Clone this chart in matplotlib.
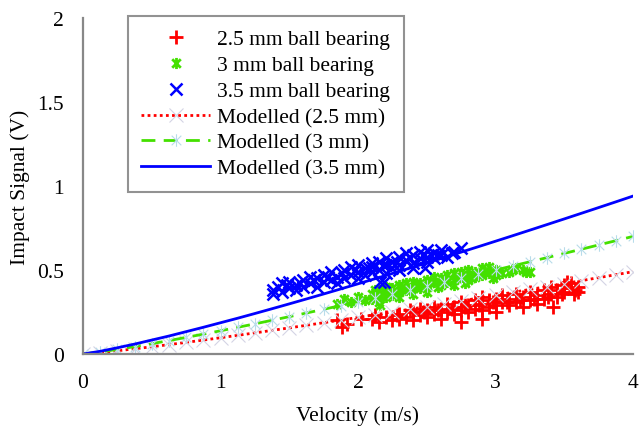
import matplotlib
matplotlib.use('Agg')
import matplotlib.pyplot as plt
from matplotlib.path import Path

plt.rcParams['font.family'] = ['Liberation Serif', 'DejaVu Serif']
plt.rcParams['font.size'] = 15.5

red_v = [1.85, 1.88, 1.92, 2.10, 2.15, 2.20, 2.25, 2.30, 2.30, 2.35, 2.40, 2.40, 2.45, 2.45,
         2.50, 2.50, 2.55, 2.55, 2.60, 2.60, 2.65, 2.65, 2.70, 2.70, 2.75, 2.75, 2.75, 2.80,
         2.80, 2.85, 2.85, 2.90, 2.90, 2.90, 2.95, 2.95, 3.00, 3.00, 3.00, 3.05, 3.05, 3.10,
         3.10, 3.15, 3.15, 3.20, 3.20, 3.25, 3.25, 3.30, 3.30, 3.35, 3.35, 3.40, 3.40, 3.45,
         3.45, 3.50, 3.50, 3.55, 3.55, 3.60, 3.60, 2.90, 3.42,
         2.02, 2.12, 2.28, 2.38, 2.48, 2.58, 2.68, 2.78, 2.88, 2.98, 3.08, 3.18, 3.28, 3.38,
         3.48, 3.58, 3.52, 3.57]
red_s = [0.20, 0.16, 0.18, 0.21, 0.19, 0.22, 0.20, 0.24, 0.21, 0.22, 0.25, 0.20, 0.23, 0.27,
         0.26, 0.22, 0.24, 0.28, 0.27, 0.21, 0.25, 0.30, 0.28, 0.24, 0.31, 0.26, 0.19, 0.29,
         0.25, 0.32, 0.27, 0.30, 0.26, 0.34, 0.28, 0.32, 0.33, 0.29, 0.25, 0.31, 0.35, 0.29,
         0.33, 0.36, 0.31, 0.34, 0.28, 0.32, 0.37, 0.35, 0.30, 0.38, 0.33, 0.36, 0.40, 0.38,
         0.34, 0.41, 0.37, 0.39, 0.42, 0.40, 0.37, 0.21, 0.28,
         0.21, 0.23, 0.23, 0.26, 0.25, 0.26, 0.27, 0.28, 0.29, 0.31, 0.31, 0.32, 0.33, 0.34,
         0.36, 0.38, 0.43, 0.36]

green_v = [1.85, 1.90, 1.95, 2.00, 2.05, 2.10, 2.10, 2.15, 2.15, 2.15, 2.20, 2.20, 2.20, 2.25,
           2.25, 2.30, 2.30, 2.30, 2.35, 2.35, 2.40, 2.40, 2.40, 2.45, 2.45, 2.50, 2.50, 2.50,
           2.55, 2.55, 2.60, 2.60, 2.65, 2.65, 2.70, 2.70, 2.70, 2.75, 2.75, 2.80, 2.80, 2.80,
           2.85, 2.85, 2.90, 2.90, 2.95, 2.95, 3.00, 3.00, 3.10, 3.15, 3.20, 3.25, 2.16,
           2.12, 2.22, 2.32, 2.42, 2.52, 2.62, 2.72, 2.82, 2.92, 2.18, 2.38, 2.58, 2.78, 2.98,
           3.05, 3.12, 3.22]
green_s = [0.30, 0.33, 0.31, 0.34, 0.32, 0.36, 0.33, 0.35, 0.38, 0.31, 0.37, 0.34, 0.40, 0.39,
           0.35, 0.41, 0.37, 0.34, 0.38, 0.42, 0.40, 0.36, 0.43, 0.42, 0.39, 0.44, 0.40, 0.37,
           0.43, 0.46, 0.41, 0.45, 0.47, 0.43, 0.44, 0.48, 0.41, 0.46, 0.49, 0.47, 0.44, 0.50,
           0.49, 0.46, 0.51, 0.47, 0.48, 0.52, 0.50, 0.47, 0.49, 0.51, 0.50, 0.49, 0.29,
           0.38, 0.39, 0.39, 0.41, 0.42, 0.43, 0.45, 0.45, 0.49, 0.36, 0.38, 0.40, 0.42, 0.45,
           0.48, 0.50, 0.49]

blue_v = [1.38, 1.38, 1.42, 1.45, 1.45, 1.50, 1.50, 1.55, 1.55, 1.60, 1.60, 1.65, 1.65, 1.70,
          1.70, 1.75, 1.75, 1.80, 1.80, 1.85, 1.85, 1.90, 1.90, 1.95, 1.95, 2.00, 2.00, 2.00,
          2.05, 2.05, 2.10, 2.10, 2.10, 2.15, 2.15, 2.20, 2.20, 2.20, 2.25, 2.25, 2.30, 2.30,
          2.30, 2.35, 2.35, 2.40, 2.40, 2.40, 2.45, 2.45, 2.50, 2.50, 2.50, 2.55, 2.55, 2.60,
          2.60, 2.65, 2.70, 2.75, 2.16, 2.49, 2.19,
          1.48, 1.58, 1.68, 1.78, 1.88, 1.98, 2.08, 2.18, 2.28, 2.38, 2.48, 2.58, 2.68]
blue_s = [0.38, 0.36, 0.40, 0.37, 0.42, 0.39, 0.43, 0.41, 0.38, 0.44, 0.40, 0.42, 0.46, 0.40,
          0.45, 0.47, 0.43, 0.44, 0.49, 0.46, 0.42, 0.50, 0.45, 0.47, 0.52, 0.49, 0.45, 0.53,
          0.51, 0.47, 0.54, 0.49, 0.52, 0.50, 0.55, 0.53, 0.48, 0.57, 0.55, 0.51, 0.58, 0.53,
          0.50, 0.56, 0.60, 0.54, 0.59, 0.51, 0.61, 0.57, 0.58, 0.62, 0.55, 0.60, 0.57, 0.62,
          0.59, 0.58, 0.61, 0.63, 0.43, 0.51, 0.43,
          0.41, 0.42, 0.44, 0.46, 0.48, 0.50, 0.51, 0.53, 0.55, 0.57, 0.59, 0.59, 0.60]

## Modelled curves
model_v = [0, 0.125, 0.25, 0.375, 0.5, 0.625, 0.75, 0.875, 1, 1.125, 1.25, 1.375, 1.5,
           1.625, 1.75, 1.875, 2, 2.125, 2.25, 2.375, 2.5, 2.625, 2.75, 2.875, 3, 3.125,
           3.25, 3.375, 3.5, 3.625, 3.75, 3.875, 4]
model_25 = [0, 0.0085, 0.0191, 0.0307, 0.0430, 0.0558, 0.0691, 0.0828, 0.0968, 0.1111,
            0.1256, 0.1405, 0.1555, 0.1708, 0.1863, 0.2019, 0.2178, 0.2338, 0.2499, 0.2663,
            0.2827, 0.2993, 0.3161, 0.3329, 0.3499, 0.3671, 0.3843, 0.4016, 0.4191, 0.4367,
            0.4544, 0.4721, 0.49]
model_3 = [0, 0.0121, 0.0273, 0.0439, 0.0614, 0.0798, 0.0987, 0.1183, 0.1382, 0.1587,
           0.1795, 0.2007, 0.2222, 0.2440, 0.2661, 0.2885, 0.3111, 0.3339, 0.3570, 0.3804,
           0.4039, 0.4276, 0.4515, 0.4756, 0.4999, 0.5243, 0.5490, 0.5738, 0.5987, 0.6238,
           0.6491, 0.6744, 0.70]
model_35 = [0, 0.016, 0.037, 0.059, 0.083, 0.107, 0.133, 0.159, 0.186, 0.213, 0.241, 0.2695,
            0.2983, 0.3276, 0.3573, 0.3874, 0.4177, 0.4484, 0.4794, 0.5108, 0.5423, 0.5742,
            0.6064, 0.6387, 0.6713, 0.7041, 0.7372, 0.7705, 0.804, 0.8377, 0.8716, 0.9056, 0.94]

x_ticks = [0, 1, 2, 3, 4]
y_ticks = [0, 0.5, 1, 1.5, 2]
y_ticklabels = ['0', '0.5', '1', '1.5', '2']

# Excel style star: an x with a vertical bar through it
star = Path([(-1, -1), (1, 1), (-1, 1), (1, -1), (0, -1.3), (0, 1.3)],
            [Path.MOVETO, Path.LINETO, Path.MOVETO, Path.LINETO, Path.MOVETO, Path.LINETO])

red = '#ff0000'
green = '#44e000'
blue = '#0000ff'

fig = plt.figure(figsize=(6.41, 4.27), dpi=100)
ax = fig.add_axes([83 / 641, 1 - 355 / 427, 550 / 641, 336 / 427])

ax.plot(red_v, red_s, linestyle='none', marker='+', ms=10, mew=2, color=red,
        label='2.5 mm ball bearing')
ax.plot(green_v, green_s, linestyle='none', marker=star, ms=8, mew=2, color=green,
        label='3 mm ball bearing')
ax.plot(blue_v, blue_s, linestyle='none', marker='x', ms=8, mew=1.8, color=blue,
        label='3.5 mm ball bearing')
ax.plot(model_v, model_25, linestyle=(0, (1, 1.2)), lw=2, color=red, marker='x', ms=10,
        mew=0.8, mec='#d4d4e4', label='Modelled (2.5 mm)')
ax.plot(model_v, model_3, linestyle=(0, (5, 3)), lw=2, color=green, marker=star, ms=9,
        mew=0.8, mec='#b8dcea', label='Modelled (3 mm)')
ax.plot(model_v, model_35, linestyle='-', lw=2, color=blue, label='Modelled (3.5 mm)')

ax.set_xlim(0, 4)
ax.set_ylim(0, 2)
ax.set_xticks(x_ticks)
ax.set_yticks(y_ticks)
ax.set_yticklabels(y_ticklabels)
ax.tick_params(length=0, pad=14, labelsize=15.5)
for side in ['top', 'right']:
    ax.spines[side].set_visible(False)
for side in ['left', 'bottom']:
    ax.spines[side].set_color('#888888')
    ax.spines[side].set_linewidth(1.6)

ax.set_xlabel('Velocity (m/s)', fontsize=15.5, labelpad=9)
ax.set_ylabel('Impact Signal (V)', fontsize=15.5, labelpad=5)

leg = ax.legend(loc='upper left', bbox_to_anchor=(128 / 641, 1 - 17 / 427),
                bbox_transform=fig.transFigure, borderaxespad=0, fancybox=False,
                handlelength=3.2, labelspacing=0.27, handletextpad=0.33, borderpad=0.62,
                fontsize=15.5)
leg.get_frame().set_edgecolor('#777777')
leg.get_frame().set_linewidth(1.5)

fig.savefig('out.png', dpi=100)
